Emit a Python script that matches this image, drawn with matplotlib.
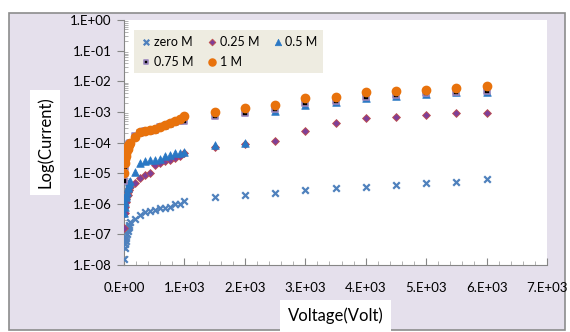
import math
import matplotlib.pyplot as plt
import matplotlib.patches as mpatches
from matplotlib.ticker import LogLocator, MultipleLocator, FuncFormatter, NullFormatter

plt.rcParams['font.family'] = ['Lato', 'DejaVu Sans']

# voltage points (near zero, up to 1000, then coarse)
voltage = [0, 10, 20, 30, 40, 50, 60, 70, 80, 90, 100,
           180, 265, 345, 430, 510, 595, 680, 760, 845, 925, 1000,
           1500, 2000, 2500, 3000, 3500, 4000, 4500, 5000, 5500, 6000]

zero_m = [1.6e-8, 3.5e-8, 5e-8, 6.3e-8, 7.9e-8, 1e-7, 1.26e-7, 1.6e-7, 1.8e-7, 2e-7, 2.5e-7,
          3.2e-7, 4.3e-7, 5.4e-7, 5.8e-7, 6.3e-7, 7.1e-7, 7.4e-7, 7.9e-7, 9.5e-7, 1e-6, 1.26e-6,
          1.7e-6, 2e-6, 2.3e-6, 2.8e-6, 3.2e-6, 3.5e-6, 4e-6, 4.6e-6, 5.2e-6, 6.2e-6]
m025 = [1.6e-7, 5e-7, 7.9e-7, 1.1e-6, 1.4e-6, 1.8e-6, 2e-6, 2.5e-6, 2.8e-6, 3.2e-6, 3.5e-6,
        4.6e-6, 6.8e-6, 8.9e-6, 1e-5, 1.8e-5, 2.1e-5, 2.4e-5, 2.6e-5, 3.2e-5, 3.5e-5, 4.4e-5,
        6.9e-5, 8.9e-5, 1.15e-4, 2.3e-4, 4.3e-4, 6.2e-4, 6.9e-4, 7.9e-4, 8.9e-4, 9.3e-4]
m05 = [5e-7, 7.9e-7, 1.1e-6, 1.6e-6, 2e-6, 2.5e-6, 3.2e-6, 3.5e-6, 4.5e-6, 5e-6, 5.6e-6,
       1.1e-5, 2.1e-5, 2.5e-5, 2.6e-5, 2.7e-5, 3e-5, 3.5e-5, 4e-5, 4.4e-5, 4.5e-5, 4.8e-5,
       8.3e-5, 9.8e-5, 1.1e-3, 1.7e-3, 2.1e-3, 2.8e-3, 3.3e-3, 3.7e-3, 4.4e-3, 4.6e-3]
m075 = [5.6e-6, 1.6e-5, 2.5e-5, 3.2e-5, 4e-5, 5e-5, 6.3e-5, 7.1e-5, 7.9e-5, 8.9e-5, 1e-4,
        1.6e-4, 2.1e-4, 2.3e-4, 2.4e-4, 2.6e-4, 3.2e-4, 3.5e-4, 4e-4, 4.5e-4, 5e-4, 5.1e-4,
        7.2e-4, 8.9e-4, 1.2e-3, 1.9e-3, 2.3e-3, 3e-3, 3.5e-3, 4e-3, 4.6e-3, 4.9e-3]
m1 = [1e-5, 2.2e-5, 2.8e-5, 3.5e-5, 4.5e-5, 5.6e-5, 6.3e-5, 7.6e-5, 8.3e-5, 8.9e-5, 9.5e-5,
      1.5e-4, 2.2e-4, 2.3e-4, 2.5e-4, 2.7e-4, 3.2e-4, 3.7e-4, 4.2e-4, 5e-4, 6e-4, 7.2e-4,
      1e-3, 1.35e-3, 1.7e-3, 2.8e-3, 3.1e-3, 4.4e-3, 4.9e-3, 5.2e-3, 6.2e-3, 6.9e-3]

fig = plt.figure(figsize=(5.7, 3.32), dpi=100)
fig.patch.set_facecolor('white')
bg = mpatches.Rectangle((9 / 570, 2 / 332), 556 / 570, 317 / 332, transform=fig.transFigure,
                        facecolor='#e5e0ec', edgecolor='#8c8c8c', linewidth=1.2, zorder=-5)
fig.patches.append(bg)

ax = fig.add_axes([124 / 570, 1 - 265 / 332, 423 / 570, 245 / 332])
ax.set_facecolor('white')

s1 = ax.scatter(voltage, zero_m, marker='x', s=22, color='#4f81bd', linewidths=1.6, label='zero M', zorder=3)
s2 = ax.scatter(voltage, m025, marker='D', s=16, color='#7f3f98', edgecolors='#c0504d', linewidths=0.6,
                label='0.25 M', zorder=3)
s3 = ax.scatter(voltage, m05, marker='^', s=30, color='#2a78c4', edgecolors='#2a78c4', linewidths=0.5,
                label='0.5 M', zorder=3)
s4 = ax.scatter(voltage, m075, marker='s', s=14, color='black', edgecolors='#9a86bd', linewidths=1.2,
                label='0.75 M', zorder=3)
s5 = ax.scatter(voltage, m1, marker='o', s=36, color='#e8720c', edgecolors='#e8720c', label='1 M', zorder=3)

ax.set_yscale('log')
ax.set_ylim(1e-8, 1)
ax.set_xlim(0, 7000)

ax.yaxis.set_major_locator(LogLocator(base=10, numticks=12))
ax.yaxis.set_minor_locator(LogLocator(base=10, subs=range(2, 10), numticks=12))
ax.yaxis.set_minor_formatter(NullFormatter())
ax.yaxis.set_major_formatter(FuncFormatter(lambda v, p: '1.E%+03d' % round(math.log10(v))))
ax.xaxis.set_major_locator(MultipleLocator(1000))
ax.xaxis.set_minor_locator(MultipleLocator(200))
ax.xaxis.set_major_formatter(FuncFormatter(lambda v, p: '%d.E+03' % round(v / 1000) if v else '0.E+00'))

ax.tick_params(axis='y', which='major', direction='out', length=5, color='#868686', labelsize=9.5, pad=4)
ax.tick_params(axis='y', which='minor', direction='in', length=3, color='#a6a6a6')
ax.tick_params(axis='x', which='major', direction='in', length=5, color='#868686', labelsize=9.5, pad=12)
ax.tick_params(axis='x', which='minor', direction='in', length=3, color='#a6a6a6')

for side in ['top', 'right']:
    ax.spines[side].set_visible(False)
for side in ['left', 'bottom']:
    ax.spines[side].set_color('#868686')

ax.set_xlabel('Voltage(Volt)', fontsize=12, labelpad=10,
              bbox=dict(facecolor='white', edgecolor='none', boxstyle='square,pad=0.45'))
ax.set_ylabel('Log(Current)', fontsize=12, labelpad=12,
              bbox=dict(facecolor='white', edgecolor='none', pad=5))

leg = ax.legend(handles=[s1, s4, s2, s5, s3], ncol=3, loc='upper left', bbox_to_anchor=(0.01, 0.985),
                fontsize=9, frameon=True, fancybox=False, handletextpad=0.1, columnspacing=1.0,
                handlelength=1.0, borderpad=0.45, labelspacing=0.65, scatterpoints=1, markerscale=0.85)
leg.get_frame().set_facecolor('#eeece1')
leg.get_frame().set_edgecolor('none')
leg.get_frame().set_alpha(1)

fig.savefig('out.png', dpi=100)
